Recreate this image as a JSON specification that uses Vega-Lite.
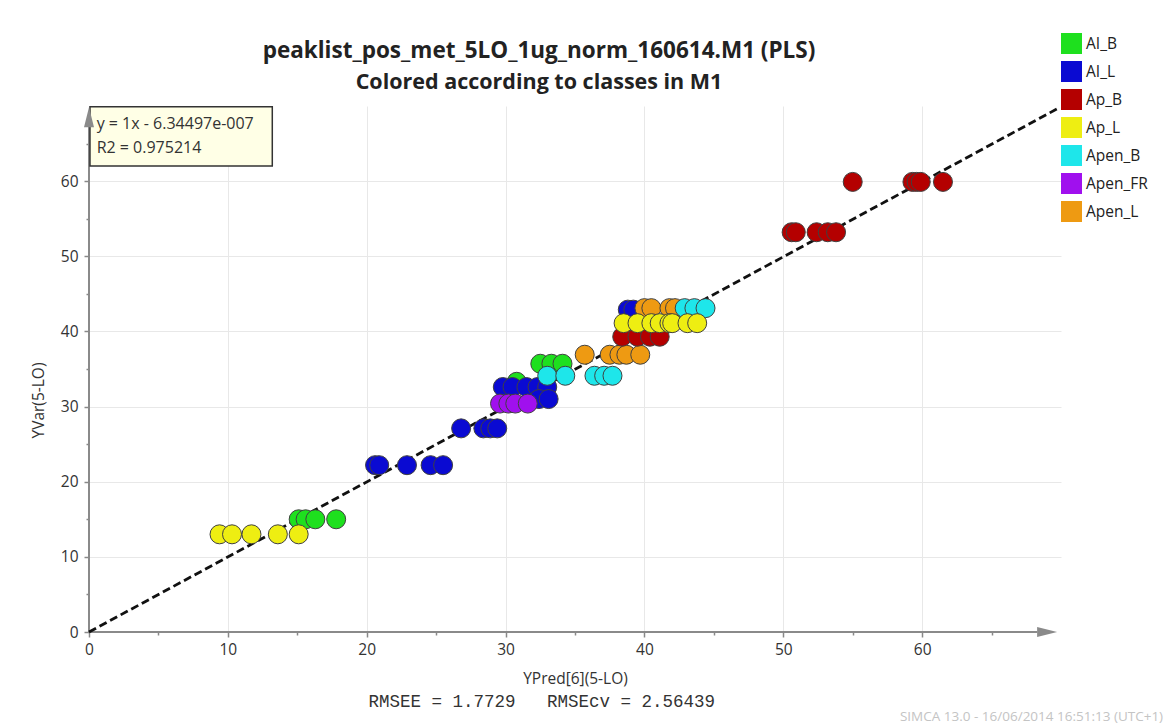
{
  "$schema": "https://vega.github.io/schema/vega-lite/v6.json",
  "width": 972,
  "height": 526,
  "autosize": {"type": "none"},
  "padding": {"left": 89, "top": 106, "right": 103, "bottom": 94},
  "background": "white",
  "config": {"view": {"stroke": null}, "font": "Open Sans"},
  "title": {
    "text": "peaklist_pos_met_5LO_1ug_norm_160614.M1 (PLS)",
    "subtitle": "Colored according to classes in M1",
    "anchor": "middle",
    "frame": "group",
    "dx": -36,
    "offset": -60,
    "fontSize": 22.5,
    "fontWeight": "bold",
    "color": "#222222",
    "subtitleFontSize": 21.5,
    "subtitleFontWeight": "bold",
    "subtitleColor": "#222222",
    "subtitlePadding": 9,
    "font": "Open Sans",
    "subtitleFont": "Open Sans"
  },
  "datasets": {
    "one": [{}],
    "pts": [
      {"c": "AI_B", "x": 15.1, "y": 15.0},
      {"c": "AI_B", "x": 15.6, "y": 15.0},
      {"c": "AI_B", "x": 16.3, "y": 15.0},
      {"c": "AI_B", "x": 17.8, "y": 15.0},
      {"c": "AI_B", "x": 30.8, "y": 33.3},
      {"c": "AI_B", "x": 32.5, "y": 35.7},
      {"c": "AI_B", "x": 33.3, "y": 35.7},
      {"c": "AI_B", "x": 34.1, "y": 35.7},
      {"c": "AI_L", "x": 20.6, "y": 22.2},
      {"c": "AI_L", "x": 20.9, "y": 22.2},
      {"c": "AI_L", "x": 22.9, "y": 22.2},
      {"c": "AI_L", "x": 24.6, "y": 22.2},
      {"c": "AI_L", "x": 25.5, "y": 22.2},
      {"c": "AI_L", "x": 26.8, "y": 27.1},
      {"c": "AI_L", "x": 28.4, "y": 27.1},
      {"c": "AI_L", "x": 28.9, "y": 27.1},
      {"c": "AI_L", "x": 29.4, "y": 27.1},
      {"c": "AI_L", "x": 29.8, "y": 32.6},
      {"c": "AI_L", "x": 30.5, "y": 32.6},
      {"c": "AI_L", "x": 31.5, "y": 32.6},
      {"c": "AI_L", "x": 32.3, "y": 32.6},
      {"c": "AI_L", "x": 33.0, "y": 32.6},
      {"c": "AI_L", "x": 32.4, "y": 31.0},
      {"c": "AI_L", "x": 33.1, "y": 31.0},
      {"c": "AI_L", "x": 38.8, "y": 42.9},
      {"c": "AI_L", "x": 39.2, "y": 42.9},
      {"c": "Apen_L", "x": 35.7, "y": 36.9},
      {"c": "Apen_L", "x": 37.5, "y": 36.9},
      {"c": "Apen_L", "x": 38.2, "y": 36.9},
      {"c": "Apen_L", "x": 38.7, "y": 36.9},
      {"c": "Apen_L", "x": 39.7, "y": 36.9},
      {"c": "Apen_L", "x": 40.0, "y": 43.1},
      {"c": "Apen_L", "x": 40.5, "y": 43.1},
      {"c": "Apen_L", "x": 41.8, "y": 43.1},
      {"c": "Apen_L", "x": 42.2, "y": 43.1},
      {"c": "Apen_B", "x": 33.0, "y": 34.1},
      {"c": "Apen_B", "x": 34.3, "y": 34.1},
      {"c": "Apen_B", "x": 36.4, "y": 34.1},
      {"c": "Apen_B", "x": 37.1, "y": 34.1},
      {"c": "Apen_B", "x": 37.7, "y": 34.1},
      {"c": "Apen_B", "x": 42.9, "y": 43.1},
      {"c": "Apen_B", "x": 43.6, "y": 43.1},
      {"c": "Apen_B", "x": 44.4, "y": 43.1},
      {"c": "Ap_B", "x": 38.4, "y": 39.3},
      {"c": "Ap_B", "x": 39.5, "y": 39.3},
      {"c": "Ap_B", "x": 40.4, "y": 39.3},
      {"c": "Ap_B", "x": 41.1, "y": 39.3},
      {"c": "Ap_B", "x": 50.6, "y": 53.2},
      {"c": "Ap_B", "x": 50.9, "y": 53.2},
      {"c": "Ap_B", "x": 52.4, "y": 53.2},
      {"c": "Ap_B", "x": 53.2, "y": 53.2},
      {"c": "Ap_B", "x": 53.8, "y": 53.2},
      {"c": "Ap_B", "x": 55.0, "y": 59.9},
      {"c": "Ap_B", "x": 59.3, "y": 59.9},
      {"c": "Ap_B", "x": 59.6, "y": 59.9},
      {"c": "Ap_B", "x": 59.9, "y": 59.9},
      {"c": "Ap_B", "x": 61.5, "y": 59.9},
      {"c": "Ap_L", "x": 9.4, "y": 13.0},
      {"c": "Ap_L", "x": 10.3, "y": 13.0},
      {"c": "Ap_L", "x": 11.7, "y": 13.0},
      {"c": "Ap_L", "x": 13.6, "y": 13.0},
      {"c": "Ap_L", "x": 15.1, "y": 13.0},
      {"c": "Ap_L", "x": 38.5, "y": 41.1},
      {"c": "Ap_L", "x": 39.5, "y": 41.1},
      {"c": "Ap_L", "x": 40.5, "y": 41.1},
      {"c": "Ap_L", "x": 41.1, "y": 41.1},
      {"c": "Ap_L", "x": 41.8, "y": 41.1},
      {"c": "Ap_L", "x": 42.0, "y": 41.1},
      {"c": "Ap_L", "x": 43.1, "y": 41.1},
      {"c": "Ap_L", "x": 43.8, "y": 41.1},
      {"c": "Apen_FR", "x": 29.6, "y": 30.4},
      {"c": "Apen_FR", "x": 30.2, "y": 30.4},
      {"c": "Apen_FR", "x": 30.7, "y": 30.4},
      {"c": "Apen_FR", "x": 31.6, "y": 30.4}
    ]
  },
  "layer": [
    {
      "data": {"name": "one"},
      "mark": {"type": "rule", "color": "#8a8a8a", "strokeWidth": 2},
      "encoding": {
        "x": {"datum": 0, "type": "quantitative", "scale": {"domain": [0, 70], "nice": false}},
        "x2": {"datum": 68.3},
        "y": {"datum": 0, "type": "quantitative", "scale": {"domain": [0, 70], "nice": false}}
      }
    },
    {
      "data": {"name": "one"},
      "mark": {"type": "rule", "color": "#8a8a8a", "strokeWidth": 2},
      "encoding": {
        "x": {"datum": 0, "type": "quantitative"},
        "y": {"datum": 0, "type": "quantitative"},
        "y2": {"datum": 67.3}
      }
    },
    {
      "data": {"name": "one"},
      "mark": {"type": "rule", "color": "#111111", "strokeWidth": 2.8, "strokeDash": [8, 4]},
      "encoding": {
        "x": {"datum": 0, "type": "quantitative"},
        "y": {"datum": 0, "type": "quantitative"},
        "x2": {"datum": 69.8},
        "y2": {"datum": 69.7}
      }
    },
    {
      "data": {"name": "pts"},
      "mark": {"type": "point", "filled": true, "shape": "circle", "size": 361, "stroke": "#404040", "strokeWidth": 1, "opacity": 1, "fillOpacity": 1},
      "encoding": {
        "x": {
          "field": "x", "type": "quantitative",
          "scale": {"domain": [0, 70], "nice": false},
          "axis": {
            "title": "YPred[6](5-LO)",
            "values": [0, 5, 10, 15, 20, 25, 30, 35, 40, 45, 50, 55, 60, 65],
            "labelExpr": "datum.value % 10 === 0 ? datum.label : ''",
            "labelFlush": false,
            "labelOverlap": false,
            "domain": false,
            "tickColor": "#888888",
            "tickWidth": 1.5,
            "tickSize": {"condition": {"test": "datum.value % 10 !== 0", "value": 3}, "value": 5},
            "grid": true,
            "gridColor": {"condition": {"test": "datum.value % 10 !== 0 || datum.value === 0", "value": "transparent"}, "value": "#e8e8e8"},
            "labelFontSize": 15.5,
            "labelColor": "#333333",
            "labelPadding": 5,
            "titleFontSize": 15.5,
            "titleFontWeight": "normal",
            "titleColor": "#333333",
            "titleY": 46,
            "titleBaseline": "middle"
          }
        },
        "y": {
          "field": "y", "type": "quantitative",
          "scale": {"domain": [0, 70], "nice": false},
          "axis": {
            "title": "YVar(5-LO)",
            "values": [0, 5, 10, 15, 20, 25, 30, 35, 40, 45, 50, 55, 60, 65],
            "labelExpr": "datum.value % 10 === 0 ? datum.label : ''",
            "labelFlush": false,
            "labelOverlap": false,
            "domain": false,
            "tickColor": "#888888",
            "tickWidth": 1.5,
            "tickSize": {"condition": {"test": "datum.value % 10 !== 0", "value": 3}, "value": 5},
            "grid": true,
            "gridColor": {"condition": {"test": "datum.value % 10 !== 0 || datum.value === 0", "value": "transparent"}, "value": "#e8e8e8"},
            "labelFontSize": 15.5,
            "labelColor": "#333333",
            "labelPadding": 6,
            "titleFontSize": 15.5,
            "titleFontWeight": "normal",
            "titleColor": "#333333",
            "titleX": -51,
            "titleY": 294,
            "titleBaseline": "middle",
            "titleAlign": "center"
          }
        },
        "color": {
          "field": "c", "type": "nominal",
          "scale": {
            "domain": ["AI_B", "AI_L", "Ap_B", "Ap_L", "Apen_B", "Apen_FR", "Apen_L"],
            "range": ["#1ee01e", "#0a0ad2", "#b40000", "#eeee12", "#1ee6ea", "#a010ee", "#ee9a12"]
          },
          "legend": {
            "title": null,
            "orient": "none",
            "legendX": 972,
            "legendY": -73,
            "padding": 0,
            "symbolType": "square",
            "symbolSize": 441,
            "symbolStrokeWidth": 0,
            "symbolOpacity": 1,
            "rowPadding": 7,
            "labelFontSize": 15.5,
            "labelColor": "#222222",
            "labelOffset": 4,
            "labelFont": "Open Sans"
          }
        }
      }
    },
    {
      "data": {"name": "one"},
      "mark": {"type": "rect", "fill": "#ffffe6", "stroke": "#333333", "strokeWidth": 1.5},
      "encoding": {
        "x": {"datum": 0.07, "type": "quantitative"},
        "x2": {"datum": 13.2},
        "y": {"datum": 62.0, "type": "quantitative"},
        "y2": {"datum": 69.9}
      }
    },
    {
      "data": {"name": "one"},
      "mark": {"type": "point", "filled": true, "shape": "M-0.5,1L0,-1L0.5,1Z", "size": 400, "color": "#8a8a8a", "opacity": 1},
      "encoding": {
        "x": {"datum": 0, "type": "quantitative"},
        "y": {"datum": 68.5, "type": "quantitative"}
      }
    },
    {
      "data": {"name": "one"},
      "mark": {"type": "point", "filled": true, "shape": "M-1,-0.5L1,0L-1,0.5Z", "size": 400, "color": "#8a8a8a", "opacity": 1},
      "encoding": {
        "x": {"datum": 69.0, "type": "quantitative"},
        "y": {"datum": 0, "type": "quantitative"}
      }
    },
    {
      "data": {"name": "one"},
      "mark": {"type": "text", "text": "y = 1x - 6.34497e-007", "align": "left", "baseline": "middle", "fontSize": 16, "color": "#333333", "font": "Open Sans"},
      "encoding": {
        "x": {"datum": 0.55, "type": "quantitative"},
        "y": {"datum": 67.6, "type": "quantitative"}
      }
    },
    {
      "data": {"name": "one"},
      "mark": {"type": "text", "text": "R2 = 0.975214", "align": "left", "baseline": "middle", "fontSize": 16, "color": "#333333", "font": "Open Sans"},
      "encoding": {
        "x": {"datum": 0.55, "type": "quantitative"},
        "y": {"datum": 64.4, "type": "quantitative"}
      }
    },
    {
      "data": {"name": "one"},
      "mark": {"type": "text", "text": "RMSEE = 1.7729\u00a0\u00a0\u00a0RMSEcv = 2.56439", "align": "center", "baseline": "middle", "fontSize": 17.5, "color": "#333333", "font": "Liberation Mono"},
      "encoding": {
        "x": {"datum": 32.6, "type": "quantitative"},
        "y": {"datum": -9.3, "type": "quantitative"}
      }
    },
    {
      "data": {"name": "one"},
      "mark": {"type": "text", "text": "SIMCA 13.0 - 16/06/2014 16:51:13 (UTC+1)", "align": "left", "baseline": "middle", "fontSize": 13.5, "color": "#c4c4c4", "font": "Open Sans"},
      "encoding": {
        "x": {"datum": 58.4, "type": "quantitative"},
        "y": {"datum": -11.3, "type": "quantitative"}
      }
    }
  ]
}
